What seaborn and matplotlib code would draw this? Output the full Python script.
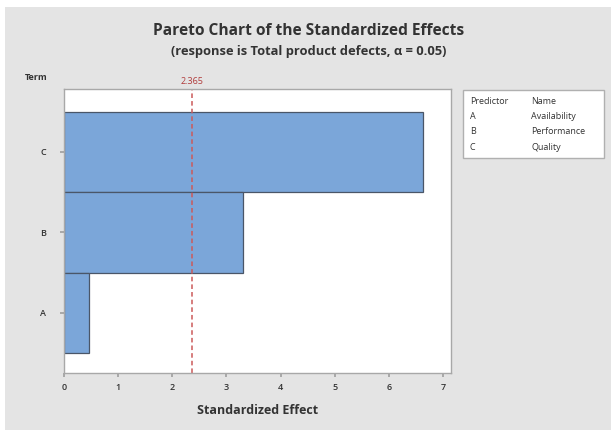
import matplotlib
matplotlib.use('Agg')
import matplotlib.pyplot as plt
import seaborn as sns
import pandas as pd
from matplotlib.patches import Rectangle

# data
terms = ['C', 'B', 'A']
effects = [6.64, 3.30, 0.46]
critical = 2.365
predictors = ['A', 'B', 'C']
names = ['Availability', 'Performance', 'Quality']
x_ticks = [0, 1, 2, 3, 4, 5, 6, 7]

df = pd.DataFrame({'Term': terms, 'Effect': effects})

sns.set_theme(style='white')
plt.rcParams['font.family'] = ['Open Sans', 'DejaVu Sans']

bg = '#e4e4e4'
fig = plt.figure(figsize=(6.11, 4.32), dpi=100, facecolor='white')
fig.patches.append(Rectangle((5 / 611, 2 / 432), 606 / 611, 423 / 432,
                             transform=fig.transFigure, facecolor=bg,
                             edgecolor='none', zorder=-5))

ax = fig.add_axes([64 / 611, 1 - 373 / 432, (451 - 64) / 611, (373 - 89) / 432])
ax.set_zorder(3)
sns.barplot(data=df, x='Effect', y='Term', order=terms, orient='h', width=1.0,
            color='#7ba6d9', saturation=1, edgecolor='#4a5668', linewidth=0.9, ax=ax)

ax.axvline(critical, color='#cc5a5a', linestyle=(0, (3, 2)), linewidth=1.1)
ax.text(critical, -0.82, '2.365', color='#b03a3a', fontsize=6.5,
        ha='center', va='bottom')

ax.set_xlim(0, 7.15)
ax.set_ylim(2.745, -0.78)
ax.set_xticks(x_ticks)
ax.set_xticklabels([str(t) for t in x_ticks], fontsize=6.5, color='#333333', fontweight='semibold')
ax.set_yticks(range(len(terms)))
ax.set_yticklabels(terms, fontsize=6.5, color='#333333', fontweight='semibold')
ax.tick_params(axis='y', pad=10)
ax.tick_params(axis='x', pad=4)
ax.tick_params(length=3, color='#a0a0a0', left=True, bottom=True)
for s in ax.spines.values():
    s.set_color('#a8a8a8')
    s.set_linewidth(1)
ax.set_ylabel('')
ax.set_xlabel('Standardized Effect', fontsize=9, fontweight='bold', color='#333333', labelpad=9)

fig.text(309 / 611, 1 - 31 / 432, 'Pareto Chart of the Standardized Effects',
         fontsize=11.2, fontweight='bold', color='#333333', ha='center', va='center')
fig.text(309 / 611, 1 - 51 / 432, '(response is Total product defects, α = 0.05)',
         fontsize=9.3, fontweight='bold', color='#333333', ha='center', va='center')
fig.text(25 / 611, 1 - 78 / 432, 'Term', fontsize=6.5, fontweight='bold',
         color='#333333', ha='left', va='center')

# predictor table on the right
fig.patches.append(Rectangle((463 / 611, 1 - 158 / 432), (604 - 463) / 611, (158 - 90) / 432,
                             transform=fig.transFigure, facecolor='white',
                             edgecolor='#b0b0b0', linewidth=1, zorder=1))
fig.text(470 / 611, 1 - 102 / 432, 'Predictor', fontsize=6.5, color='#333333', va='center')
fig.text(531 / 611, 1 - 102 / 432, 'Name', fontsize=6.5, color='#333333', va='center')
for i, (p, n) in enumerate(zip(predictors, names)):
    y = 117 + i * 15
    fig.text(470 / 611, 1 - y / 432, p, fontsize=6.5, color='#333333', va='center')
    fig.text(531 / 611, 1 - y / 432, n, fontsize=6.5, color='#333333', va='center')

fig.savefig('out.png', dpi=100, facecolor=fig.get_facecolor())
